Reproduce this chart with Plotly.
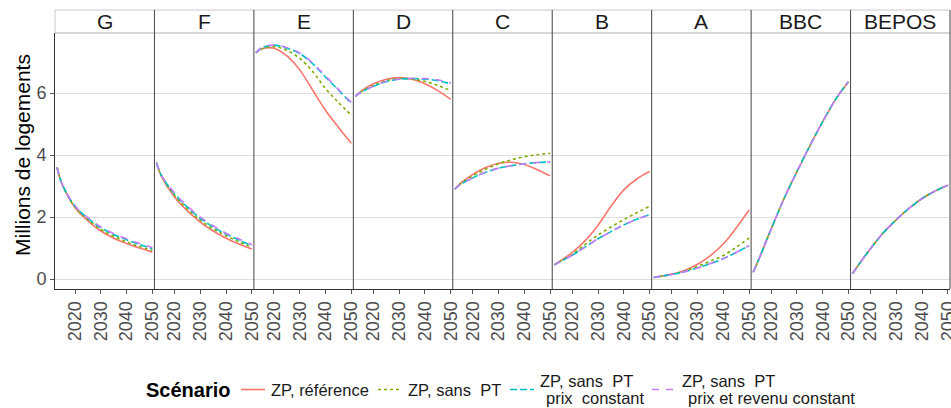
import plotly.graph_objects as go
from plotly.subplots import make_subplots

# ---------------- data ----------------
years = [2013, 2015, 2020, 2025, 2030, 2035, 2040, 2045, 2050]
panels = ["G", "F", "E", "D", "C", "B", "A", "BBC", "BEPOS"]
scenario_names = [
    "ZP, référence",
    "ZP, sans\u00a0 PT",
    "ZP, sans\u00a0 PT / prix\u00a0 constant",
    "ZP, sans\u00a0 PT / prix et revenu constant",
]
legend_line1 = ["ZP, référence", "ZP, sans\u00a0 PT", "ZP, sans\u00a0 PT", "ZP, sans\u00a0 PT"]
legend_line2 = ["", "", "prix\u00a0 constant", "prix et revenu constant"]
legend_title = "Scénario"
y_title = "Millions de logements"

# one list per panel (G, F, E, D, C, B, A, BBC, BEPOS)
ref_values = [
    [3.60, 3.05, 2.30, 1.88, 1.55, 1.32, 1.15, 1.00, 0.87],
    [3.75, 3.30, 2.65, 2.20, 1.84, 1.55, 1.32, 1.13, 0.97],
    [7.30, 7.42, 7.45, 7.20, 6.75, 6.10, 5.45, 4.90, 4.38],
    [5.90, 6.05, 6.30, 6.45, 6.50, 6.45, 6.30, 6.08, 5.80],
    [2.90, 3.08, 3.38, 3.60, 3.74, 3.77, 3.70, 3.53, 3.33],
    [0.46, 0.57, 0.86, 1.24, 1.74, 2.35, 2.88, 3.23, 3.47],
    [0.05, 0.08, 0.16, 0.28, 0.48, 0.76, 1.13, 1.65, 2.23],
    [0.22, 0.60, 1.62, 2.60, 3.47, 4.30, 5.08, 5.80, 6.37],
    [0.18, 0.42, 0.99, 1.50, 1.92, 2.29, 2.60, 2.84, 3.03],
]
sans_pt_values = [
    [3.60, 3.05, 2.32, 1.92, 1.60, 1.38, 1.20, 1.05, 0.92],
    [3.75, 3.32, 2.70, 2.27, 1.90, 1.62, 1.40, 1.20, 1.03],
    [7.30, 7.42, 7.50, 7.38, 7.12, 6.70, 6.15, 5.70, 5.29],
    [5.90, 6.03, 6.25, 6.40, 6.48, 6.45, 6.38, 6.25, 6.08],
    [2.90, 3.06, 3.33, 3.55, 3.72, 3.85, 3.95, 4.01, 4.06],
    [0.46, 0.56, 0.80, 1.12, 1.42, 1.68, 1.92, 2.14, 2.35],
    [0.05, 0.08, 0.15, 0.26, 0.41, 0.58, 0.76, 1.03, 1.32],
    [0.22, 0.60, 1.62, 2.60, 3.47, 4.30, 5.08, 5.80, 6.37],
    [0.18, 0.42, 0.99, 1.50, 1.92, 2.29, 2.60, 2.84, 3.03],
]
prix_constant_values = [
    [3.60, 3.06, 2.35, 1.96, 1.66, 1.44, 1.27, 1.12, 0.98],
    [3.75, 3.33, 2.75, 2.32, 1.96, 1.68, 1.45, 1.26, 1.08],
    [7.30, 7.45, 7.55, 7.45, 7.28, 6.95, 6.52, 6.10, 5.67],
    [5.90, 6.02, 6.22, 6.37, 6.45, 6.47, 6.45, 6.40, 6.30],
    [2.90, 3.04, 3.27, 3.45, 3.58, 3.66, 3.72, 3.76, 3.78],
    [0.46, 0.55, 0.77, 1.04, 1.30, 1.53, 1.75, 1.93, 2.08],
    [0.05, 0.08, 0.15, 0.24, 0.36, 0.50, 0.66, 0.86, 1.08],
    [0.22, 0.60, 1.62, 2.60, 3.47, 4.30, 5.08, 5.80, 6.37],
    [0.18, 0.42, 0.99, 1.50, 1.92, 2.29, 2.60, 2.84, 3.03],
]
prix_revenu_values = [
    [3.60, 3.06, 2.36, 1.98, 1.68, 1.47, 1.30, 1.15, 1.02],
    [3.75, 3.34, 2.78, 2.35, 2.00, 1.72, 1.48, 1.29, 1.11],
    [7.30, 7.45, 7.55, 7.47, 7.30, 6.97, 6.55, 6.12, 5.70],
    [5.90, 6.02, 6.22, 6.38, 6.45, 6.48, 6.47, 6.43, 6.33],
    [2.90, 3.04, 3.27, 3.45, 3.58, 3.66, 3.72, 3.76, 3.78],
    [0.46, 0.55, 0.77, 1.04, 1.30, 1.53, 1.75, 1.93, 2.08],
    [0.05, 0.08, 0.15, 0.24, 0.36, 0.50, 0.66, 0.86, 1.08],
    [0.22, 0.60, 1.62, 2.60, 3.47, 4.30, 5.08, 5.80, 6.37],
    [0.18, 0.42, 0.99, 1.50, 1.92, 2.29, 2.60, 2.84, 3.03],
]
x_ticks = [2020, 2030, 2040, 2050]
y_ticks = [0, 2, 4, 6]

# ---------------- styles ----------------
colors = ["#F8766D", "#7CAE00", "#00BFC4", "#C77CFF"]
dashes = ["solid", "3px,3px", "7px,3px", "7px,7px"]
FONT = "Liberation Sans, Arial, Helvetica, sans-serif"

W, H = 951, 408
ML, MR, MT, MB = 55, 1, 33, 119
PW, PH = W - ML - MR, H - MT - MB


def px_x(px):
    return (px - ML) / PW


def px_y(py):
    return (H - MB - py) / PH


all_values = [ref_values, sans_pt_values, prix_constant_values, prix_revenu_values]

n = len(panels)
fig = make_subplots(rows=1, cols=n, shared_yaxes=True, horizontal_spacing=0)

for p in range(n):
    for s in range(4):
        fig.add_trace(
            go.Scatter(
                x=years,
                y=all_values[s][p],
                mode="lines",
                line=dict(color=colors[s], dash=dashes[s], width=1.6,
                          shape="spline", smoothing=1.0),
                name=scenario_names[s],
                showlegend=False,
                hoverinfo="skip",
            ),
            row=1, col=p + 1,
        )

for p in range(n):
    fig.update_xaxes(
        range=[2012.2, 2050.8],
        tickvals=x_ticks,
        ticktext=[str(t) for t in x_ticks],
        tickangle=-90,
        ticks="outside", ticklen=4, tickcolor="#555555", tickwidth=1,
        tickfont=dict(family=FONT, size=18, color="#4D4D4D"),
        ticklabeloverflow="allow",
        showgrid=False, zeroline=False, automargin=False,
        showline=True, linecolor="#333333", linewidth=1,
        row=1, col=p + 1,
    )
    fig.update_yaxes(
        range=[-0.32, 7.94],
        tickvals=y_ticks,
        showgrid=True, gridcolor="#DEDEDE", gridwidth=1.2,
        zeroline=False, automargin=False,
        row=1, col=p + 1,
    )

fig.update_yaxes(
    ticks="outside", ticklen=4, tickcolor="#555555",
    tickfont=dict(family=FONT, size=18, color="#4D4D4D"),
    showline=True, linecolor="#333333", linewidth=1,
    row=1, col=1,
)

shapes = []
annotations = []

# y-axis title
annotations.append(dict(text=y_title, xref="paper", yref="paper",
                        x=px_x(22), y=px_y(155), xanchor="center", yanchor="middle",
                        textangle=-90, showarrow=False,
                        font=dict(family=FONT, size=21, color="#000000")))

# strips (border lines only, white background) and panel separators
strip_top = px_y(10)
STRIP_LINE = dict(color="#C8C8C8", width=1)
shapes.append(dict(type="line", xref="paper", yref="paper", x0=0, x1=1,
                   y0=strip_top, y1=strip_top, line=STRIP_LINE))
shapes.append(dict(type="line", xref="paper", yref="paper", x0=0, x1=1,
                   y0=1, y1=1, line=dict(color="#B0B0B0", width=1)))
shapes.append(dict(type="line", xref="paper", yref="paper", x0=0, x1=0,
                   y0=1, y1=strip_top, line=STRIP_LINE))
for p in range(n):
    x0 = p / n
    x1 = (p + 1) / n
    annotations.append(dict(text=panels[p], xref="paper", yref="paper",
                            x=(x0 + x1) / 2, y=(1 + strip_top) / 2,
                            xanchor="center", yanchor="middle", showarrow=False,
                            font=dict(family=FONT, size=21, color="#1A1A1A")))
for p in range(1, n + 1):
    xp = p / n
    shapes.append(dict(type="line", xref="paper", yref="paper", x0=xp, x1=xp,
                       y0=0, y1=strip_top, line=dict(color="#444444", width=1)))

# manual legend (short key lines like the reference)
annotations.append(dict(text="<b>" + legend_title + "</b>", xref="paper", yref="paper",
                        x=px_x(232), y=px_y(390), xanchor="right", yanchor="middle",
                        showarrow=False, font=dict(family=FONT, size=20, color="#000000")))
key_x0 = [241, 378, 510, 652]
key_len = 24
text_gap = 4
for s in range(4):
    ky = px_y(389.5)
    shapes.append(dict(type="line", xref="paper", yref="paper",
                       x0=px_x(key_x0[s]), x1=px_x(key_x0[s] + key_len), y0=ky, y1=ky,
                       line=dict(color=colors[s], width=1.6, dash=dashes[s])))
    tx = key_x0[s] + key_len + text_gap
    if legend_line2[s]:
        annotations.append(dict(text=legend_line1[s], xref="paper", yref="paper",
                                x=px_x(tx), y=px_y(381), xanchor="left", yanchor="middle",
                                showarrow=False,
                                font=dict(family=FONT, size=16.5, color="#1A1A1A")))
        annotations.append(dict(text=legend_line2[s], xref="paper", yref="paper",
                                x=px_x(tx + 6), y=px_y(397.5), xanchor="left", yanchor="middle",
                                showarrow=False,
                                font=dict(family=FONT, size=16.5, color="#1A1A1A")))
    else:
        annotations.append(dict(text=legend_line1[s], xref="paper", yref="paper",
                                x=px_x(tx), y=px_y(390), xanchor="left", yanchor="middle",
                                showarrow=False,
                                font=dict(family=FONT, size=16.5, color="#1A1A1A")))

fig.update_layout(
    width=W, height=H,
    margin=dict(l=ML, r=MR, t=MT, b=MB),
    paper_bgcolor="white", plot_bgcolor="white",
    font=dict(family=FONT, color="#000000"),
    shapes=shapes,
    annotations=annotations,
    showlegend=False,
)

fig.write_html(
    "out.html",
    config={"displayModeBar": False},
    post_script="document.body.style.margin='0px';document.body.style.overflow='hidden';",
)
